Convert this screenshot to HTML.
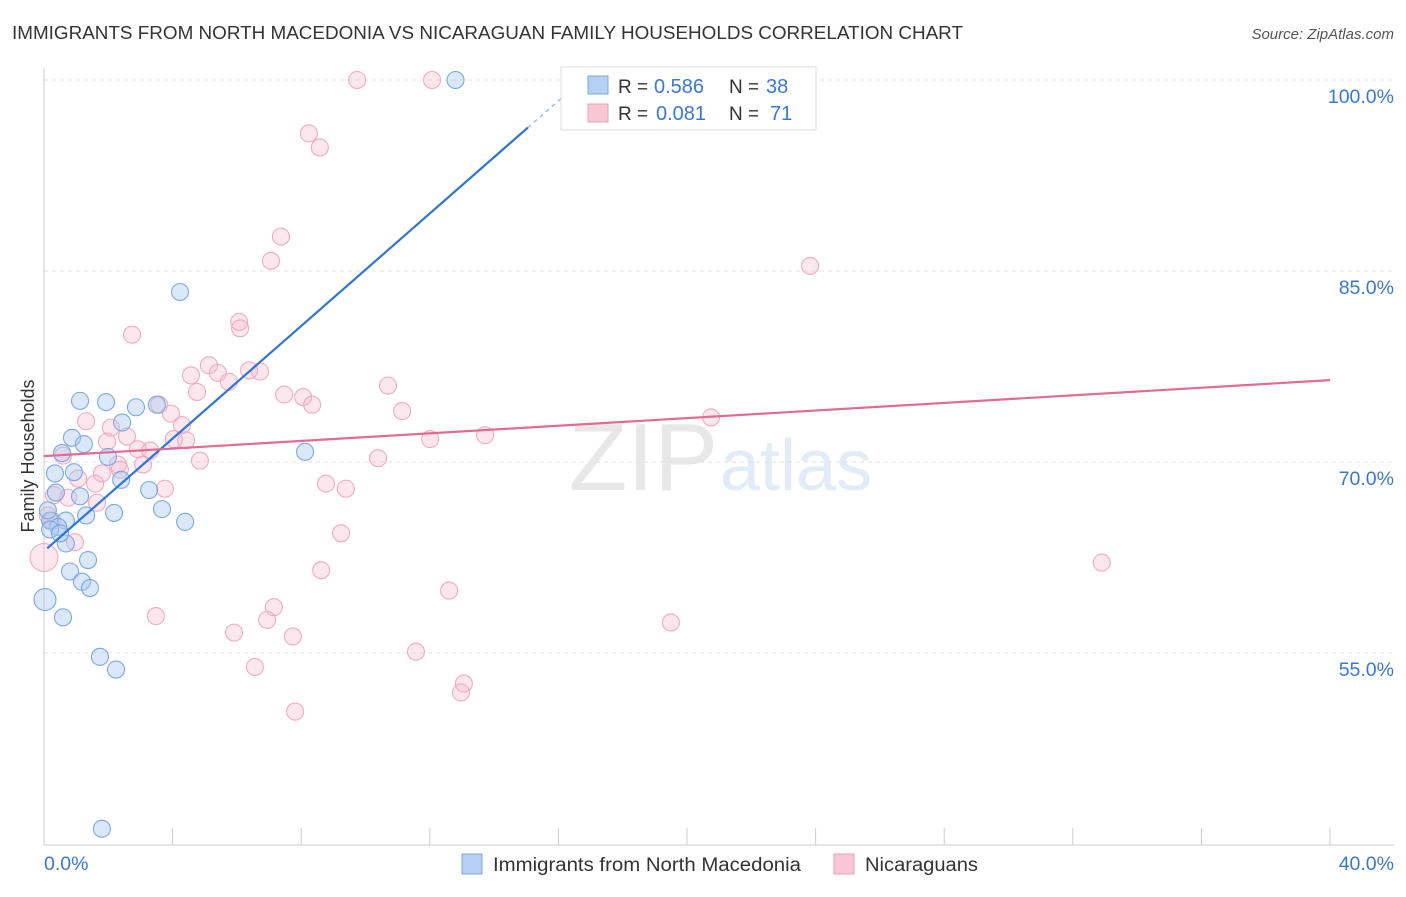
<!DOCTYPE html>
<html><head><meta charset="utf-8">
<style>
body{margin:0;background:#fff;font-family:"Liberation Sans",sans-serif;}
svg text{font-family:"Liberation Sans",sans-serif;}
</style></head>
<body>
<svg id="chart" width="1406" height="892">
<text x="12" y="39" font-size="18" fill="#333" textLength="951" lengthAdjust="spacingAndGlyphs">IMMIGRANTS FROM NORTH MACEDONIA VS NICARAGUAN FAMILY HOUSEHOLDS CORRELATION CHART</text>
<text x="1394" y="39" font-size="15" fill="#555" font-style="italic" text-anchor="end">Source: ZipAtlas.com</text>
<text x="718" y="490" font-size="96" fill="#e8e8e8" text-anchor="end" font-family="Liberation Serif">ZIP</text>
<text x="720" y="490" font-size="72" fill="#e2ecf8">atlas</text>
<g id="grid"></g>
<g id="axes"></g>
<g id="pts"></g>
<g id="lines"></g>
<text transform="translate(34,456) rotate(-90)" font-size="18" fill="#333" text-anchor="middle">Family Households</text>
<g>
<rect x="561" y="67" width="255" height="63" fill="#fff" stroke="#ddd"/>
<rect x="588" y="76" width="20" height="18" fill="#b5d0f3" stroke="#7aa8e0"/>
<rect x="588" y="104" width="20" height="18" fill="#f9c6d6" stroke="#e8a0b8"/>
<text x="618" y="93" font-size="19" fill="#333">R =</text>
<text x="654" y="93" font-size="20" fill="#3a78d0">0.586</text>
<text x="729" y="93" font-size="19" fill="#333">N =</text>
<text x="766" y="93" font-size="20" fill="#3a78d0">38</text>
<text x="618" y="120" font-size="19" fill="#333">R =</text>
<text x="656" y="120" font-size="20" fill="#3a78d0">0.081</text>
<text x="729" y="120" font-size="19" fill="#333">N =</text>
<text x="770" y="120" font-size="20" fill="#3a78d0">71</text>
</g>
<g>
<rect x="462" y="854" width="20" height="20" fill="#b5d0f3" stroke="#7aa8e0"/>
<text x="493" y="871" font-size="19" fill="#333" textLength="308" lengthAdjust="spacingAndGlyphs">Immigrants from North Macedonia</text>
<rect x="834" y="854" width="20" height="20" fill="#f9c6d6" stroke="#e8a0b8"/>
<text x="865" y="871" font-size="19" fill="#333" textLength="113" lengthAdjust="spacingAndGlyphs">Nicaraguans</text>
</g>
</svg>
<script>
const yTicks=[55,70,85,100];
const yTickLabels=["55.0%","70.0%","85.0%","100.0%"];
const xEdgeLabels=["0.0%","40.0%"];
const blueX=[12.8,4.23,1.12,1.93,2.86,3.51,2.43,0.87,1.24,0.56,1.99,8.12,0.34,0.93,2.4,0.37,1.12,3.27,1.31,2.18,3.67,4.39,0.19,0.68,0.44,0.19,0.68,1.37,0.81,1.18,1.43,0.03,0.59,1.74,2.24,1.8,0.12,0.5];
const blueY=[100,83.35,74.8,74.7,74.3,74.5,73.1,71.9,71.4,70.7,70.4,70.8,69.1,69.2,68.6,67.6,67.3,67.8,65.8,66.0,66.3,65.3,65.4,65.4,64.9,64.7,63.6,62.3,61.4,60.6,60.1,59.2,57.8,54.7,53.7,41.2,66.2,64.4];
const pinkX=[9.74,12.07,21.03,8.24,8.58,7.37,7.06,23.83,6.07,6.1,2.74,5.13,4.57,5.41,6.72,6.38,5.75,4.76,10.7,7.47,8.06,8.34,3.58,3.95,1.31,4.29,2.08,2.58,11.14,20.75,13.72,12.01,4.04,4.42,1.96,2.92,3.3,0.59,4.85,10.39,2.3,2.36,3.08,1.8,1.06,1.59,8.77,9.39,3.76,0.31,0.75,1.65,0.12,0.25,9.24,0.96,0,32.9,8.62,12.6,3.48,19.5,7.15,6.94,5.91,7.74,11.57,6.56,13.06,12.97,7.81];
const pinkY=[100,100,100,95.8,94.7,87.7,85.8,85.4,81.0,80.5,80.0,77.6,76.8,77.0,77.1,77.2,76.3,75.5,76.0,75.3,75.1,74.5,74.5,73.8,73.2,72.9,72.7,72.0,74.0,73.5,72.1,71.8,71.8,71.7,71.6,71.0,70.9,70.5,70.1,70.3,69.8,69.4,69.8,69.1,68.7,68.3,68.3,67.9,67.9,67.4,67.2,66.8,65.8,65.4,64.4,63.7,62.5,62.1,61.5,59.9,57.9,57.4,58.6,57.6,56.6,56.3,55.1,53.9,52.6,51.9,50.4];
const blueTrend=[63.0,2.21];
const pinkTrend=[70.46,76.43];
const NS="http://www.w3.org/2000/svg";
const X=v=>44+v*(1286/40);
const Y=v=>80+(100-v)*(191/15);
function mk(tag,attrs,parent){const e=document.createElementNS(NS,tag);for(const k in attrs)e.setAttribute(k,attrs[k]);document.getElementById(parent).appendChild(e);return e;}
yTicks.forEach((t,i)=>{
 const l=mk('line',{x1:44,x2:1394,y1:Y(t),y2:Y(t),stroke:'#e2e2e2','stroke-dasharray':'4,4'},'grid');
 
 
 const tx=mk('text',{x:1394,y:Y(t)+23,'font-size':19.5,fill:'#3a78d0','text-anchor':'end'},'axes');
 tx.textContent=yTickLabels[i];
 
 
});
const ax=mk('line',{x1:44,x2:44,y1:68,y2:845,stroke:'#ccc'},'axes');


const bx=mk('line',{x1:44,x2:1394,y1:845,y2:845,stroke:'#ccc'},'axes');


for(let i=0;i<=10;i++){
 const t=mk('line',{x1:X(i*4),x2:X(i*4),y1:828,y2:845,stroke:'#ccc'},'axes');
 
 
}
const xl0=mk('text',{x:44,y:870,'font-size':19.5,fill:'#3a78d0'},'axes');xl0.textContent=xEdgeLabels[0];


const xl1=mk('text',{x:1394,y:870,'font-size':19.5,fill:'#3a78d0','text-anchor':'end'},'axes');xl1.textContent=xEdgeLabels[1];


pinkX.forEach((v,i)=>{
 const r=(v===0)?14:8.5;
 const c=mk('circle',{cx:X(v),cy:Y(pinkY[i]),r:r,fill:'rgba(246,182,202,0.33)',stroke:'#eeabc2','stroke-width':1.1},'pts');
 
 
});
blueX.forEach((v,i)=>{
 const r=(v<0.05)?11:8.5;
 const c=mk('circle',{cx:X(v),cy:Y(blueY[i]),r:r,fill:'rgba(168,200,240,0.42)',stroke:'#7ca8e0','stroke-width':1.1},'pts');
 
 
});
const b1=mk('line',{x1:X(0.1),y1:Y(blueTrend[0]+blueTrend[1]*0.1),x2:X(15.05),y2:Y(blueTrend[0]+blueTrend[1]*15.05),stroke:'#2f74d8','stroke-width':2.2},'lines');


const b2=mk('line',{x1:X(15.05),y1:Y(blueTrend[0]+blueTrend[1]*15.05),x2:X(16.7),y2:Y(blueTrend[0]+blueTrend[1]*16.7),stroke:'#9bbde8','stroke-width':1.5,'stroke-dasharray':'4,4'},'lines');


const p1=mk('line',{x1:X(0),y1:Y(pinkTrend[0]),x2:X(40),y2:Y(pinkTrend[1]),stroke:'#e46a95','stroke-width':2.2},'lines');


</script>
</body></html>
